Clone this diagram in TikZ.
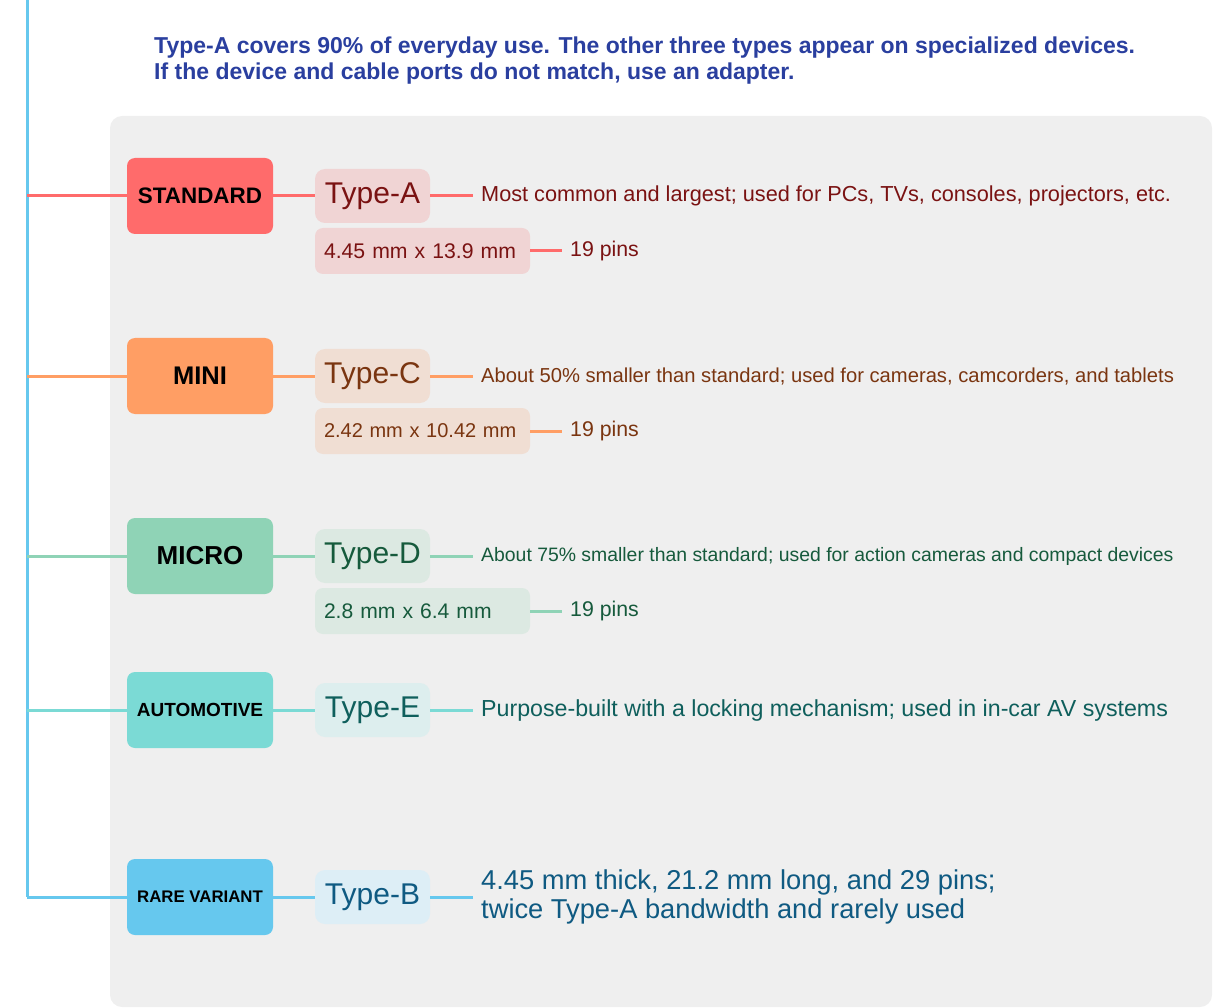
\documentclass[tikz,border=0pt]{standalone}
\usepackage{fontspec}
\setmainfont{Liberation Sans}
\usepackage{tikz}

% colours of the five connector families
\definecolor{stdFill}{HTML}{FF6B6B}\definecolor{stdLight}{HTML}{F0D4D4}\definecolor{stdDark}{HTML}{7A1212}
\definecolor{miniFill}{HTML}{FF9E64}\definecolor{miniLight}{HTML}{F0DED3}\definecolor{miniDark}{HTML}{7A3510}
\definecolor{microFill}{HTML}{8FD3B6}\definecolor{microLight}{HTML}{DCE9E2}\definecolor{microDark}{HTML}{165A3C}
\definecolor{autoFill}{HTML}{7BDAD5}\definecolor{autoLight}{HTML}{DDEEEE}\definecolor{autoDark}{HTML}{0F5F5C}
\definecolor{rareFill}{HTML}{66C8EE}\definecolor{rareLight}{HTML}{DDEEF6}\definecolor{rareDark}{HTML}{0F5A82}
\definecolor{headBlue}{HTML}{2A3F9F}
\definecolor{panel}{HTML}{EFEFEF}

\newcommand{\fs}[1]{\fontsize{#1}{#1}\selectfont}

\begin{document}
\begin{tikzpicture}[x=1pt,y=-1pt, inner sep=0pt,
  grp/.style={rounded corners=8pt, minimum width=146pt, minimum height=76pt},
  typ/.style={rounded corners=10pt, minimum width=115pt, minimum height=54pt, font=\fs{30}},
  dimbox/.style={rounded corners=8pt, minimum height=46pt, text width=197pt, inner xsep=9pt, align=left},
  desc/.style={anchor=west, inner xsep=8pt},
  link/.style={line width=3pt}]
\useasboundingbox (0,0) rectangle (1213,1008);
\fill[panel, rounded corners=12pt] (110,116) rectangle (1212,1007);

% header note
\node (note) at (154,61) [anchor=west, align=left, text=headBlue, font=\bfseries\fs{23}] {Type-A covers 90\% of everyday use. The other three types appear on specialized devices.\\[3pt]If the device and cable ports do not match, use an adapter.};

% spine
\coordinate (top) at (27,0);
\coordinate (bot) at (27,897);
\draw[link, rareFill] (top) -- (bot);

% standard
\coordinate (sStd) at (27,196);
\node (std) at (200,196) [grp, fill=stdFill, font=\bfseries\fs{22.4}] {STANDARD};
\node (stdT) at (372.5,196) [typ, fill=stdLight, text=stdDark] {Type-A};
\node (stdX) at (473,196) [desc, text=stdDark, font=\fs{21.7}] {Most common and largest; used for PCs, TVs, consoles, projectors, etc.};
\node (stdD) at (422.5,251) [dimbox, fill=stdLight, text=stdDark, font=\fs{21.2}] {4.45 mm x 13.9 mm};
\node (stdP) at (562,251) [desc, text=stdDark, font=\fs{21.3}] {19 pins};
\draw[link, stdFill] (sStd) -- (std);
\draw[link, stdFill] (std) -- (stdT);
\draw[link, stdFill] (stdT) -- (stdX);
\draw[link, stdFill] (stdD) -- (stdP);

% mini
\coordinate (sMini) at (27,376);
\node (mini) at (200,376) [grp, fill=miniFill, font=\bfseries\fs{25.5}] {MINI};
\node (miniT) at (372.5,376) [typ, fill=miniLight, text=miniDark] {Type-C};
\node (miniX) at (473,376) [desc, text=miniDark, font=\fs{20.2}] {About 50\% smaller than standard; used for cameras, camcorders, and tablets};
\node (miniD) at (422.5,431) [dimbox, fill=miniLight, text=miniDark, font=\fs{20}] {2.42 mm x 10.42 mm};
\node (miniP) at (562,431) [desc, text=miniDark, font=\fs{21.3}] {19 pins};
\draw[link, miniFill] (sMini) -- (mini);
\draw[link, miniFill] (mini) -- (miniT);
\draw[link, miniFill] (miniT) -- (miniX);
\draw[link, miniFill] (miniD) -- (miniP);

% micro
\coordinate (sMicro) at (27,556);
\node (micro) at (200,556) [grp, fill=microFill, font=\bfseries\fs{26}] {MICRO};
\node (microT) at (372.5,556) [typ, fill=microLight, text=microDark] {Type-D};
\node (microX) at (473,556) [desc, text=microDark, font=\fs{19.4}] {About 75\% smaller than standard; used for action cameras and compact devices};
\node (microD) at (422.5,611) [dimbox, fill=microLight, text=microDark, font=\fs{21.1}] {2.8 mm x 6.4 mm};
\node (microP) at (562,611) [desc, text=microDark, font=\fs{21.3}] {19 pins};
\draw[link, microFill] (sMicro) -- (micro);
\draw[link, microFill] (micro) -- (microT);
\draw[link, microFill] (microT) -- (microX);
\draw[link, microFill] (microD) -- (microP);

% automotive
\coordinate (sAuto) at (27,710);
\node (auto) at (200,710) [grp, fill=autoFill, font=\bfseries\fs{19}] {AUTOMOTIVE};
\node (autoT) at (372.5,710) [typ, fill=autoLight, text=autoDark] {Type-E};
\node (autoX) at (473,710) [desc, text=autoDark, font=\fs{23.2}] {Purpose-built with a locking mechanism; used in in-car AV systems};
\draw[link, autoFill] (sAuto) -- (auto);
\draw[link, autoFill] (auto) -- (autoT);
\draw[link, autoFill] (autoT) -- (autoX);

% rare variant
\node (rare) at (200,897) [grp, fill=rareFill, font=\bfseries\fs{16.8}] {RARE VARIANT};
\node (rareT) at (372.5,897) [typ, fill=rareLight, text=rareDark] {Type-B};
\node (rareX) at (473,897) [desc, align=left, text=rareDark, font=\fs{27.3}] {4.45 mm thick, 21.2 mm long, and 29 pins;\\[2pt]twice Type-A bandwidth and rarely used};
\draw[link, rareFill] (bot) -- (rare);
\draw[link, rareFill] (rare) -- (rareT);
\draw[link, rareFill] (rareT) -- (rareX);
\end{tikzpicture}
\end{document}
